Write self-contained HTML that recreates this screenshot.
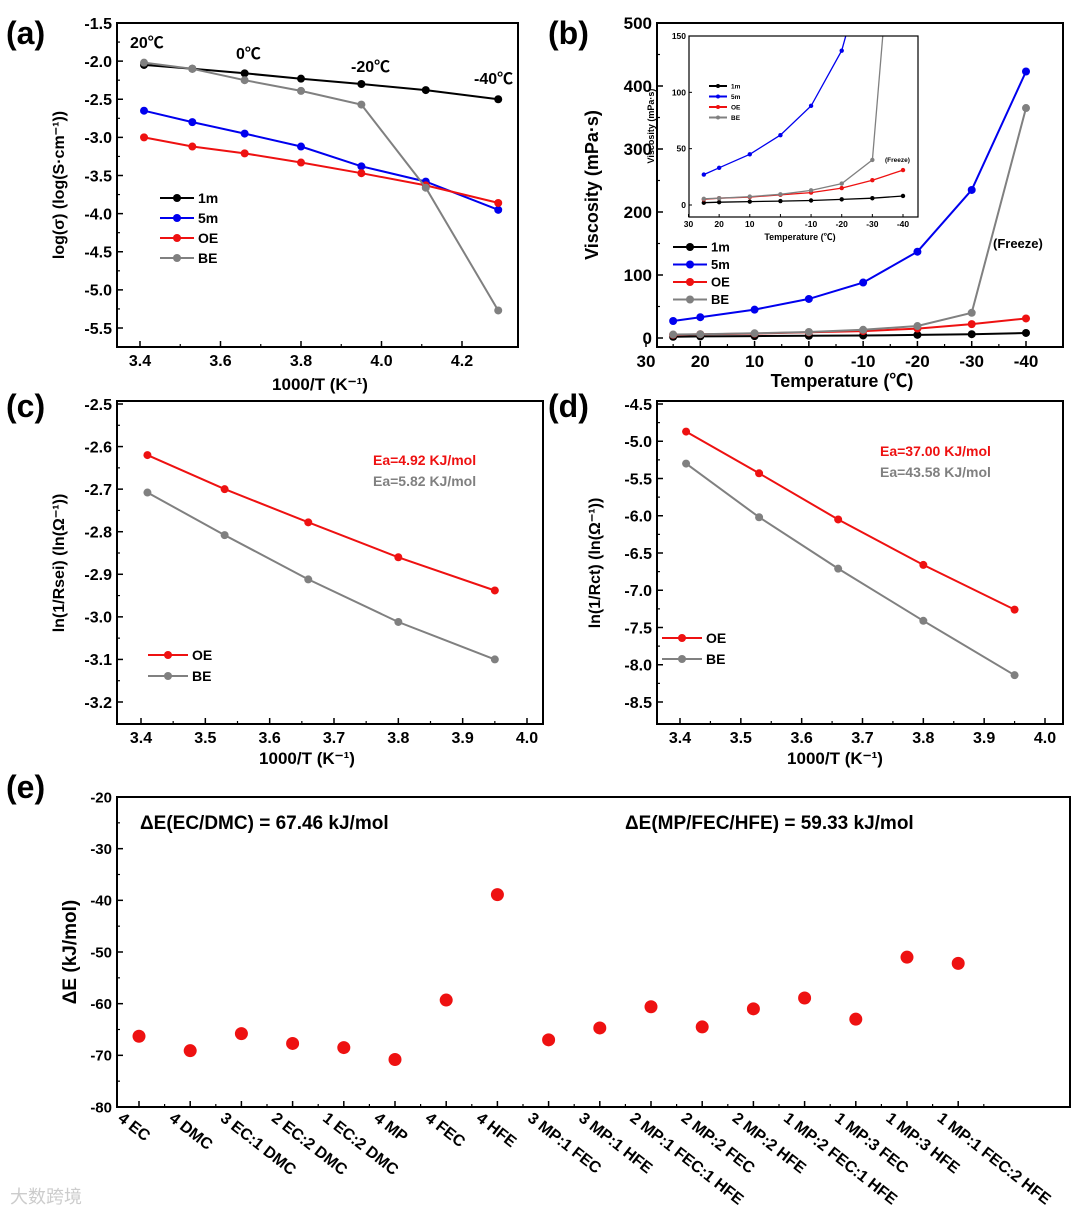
<!DOCTYPE html>
<html><head><meta charset="utf-8"><style>
body{margin:0;background:#fff}
svg{display:block;font-family:"Liberation Sans","Noto Sans CJK SC",sans-serif;font-weight:bold}
</style></head><body>
<svg id="fig" width="1080" height="1216" viewBox="0 0 1080 1216" xmlns="http://www.w3.org/2000/svg"></svg>
<script>
// ---- data (a)
const aX=[3.41,3.53,3.66,3.80,3.95,4.11,4.29];
const a1m=[-2.05,-2.10,-2.16,-2.23,-2.30,-2.38,-2.50];
const a5m=[-2.65,-2.80,-2.95,-3.12,-3.38,-3.58,-3.95];
const aOE=[-3.00,-3.12,-3.21,-3.33,-3.47,-3.63,-3.86];
const aBE=[-2.02,-2.10,-2.25,-2.39,-2.57,-3.66,-5.27];
const aXTicks=[3.4,3.6,3.8,4.0,4.2];
const aYTicks=[-1.5,-2.0,-2.5,-3.0,-3.5,-4.0,-4.5,-5.0,-5.5];
// ---- data (b)
const bX=[25,20,10,0,-10,-20,-30,-40];
const b1m=[2,2.5,3,3.5,4,5,6,8];
const b5m=[27,33,45,62,88,137,235,423];
const bOE=[5,6,7,9,11,15,22,31];
const bBE=[5.5,6,7.5,9.5,13,19,40,365];
const bXTicks=[30,20,10,0,-10,-20,-30,-40];
const bYTicks=[0,100,200,300,400,500];
const insYTicks=[0,50,100,150];
// ---- data (c)
const cX=[3.41,3.53,3.66,3.80,3.95];
const cOE=[-2.62,-2.70,-2.778,-2.86,-2.938];
const cBE=[-2.708,-2.808,-2.912,-3.012,-3.10];
const cXTicks=[3.4,3.5,3.6,3.7,3.8,3.9,4.0];
const cYTicks=[-2.5,-2.6,-2.7,-2.8,-2.9,-3.0,-3.1,-3.2];
// ---- data (d)
const dOE=[-4.87,-5.43,-6.05,-6.66,-7.26];
const dBE=[-5.30,-6.02,-6.71,-7.41,-8.14];
const dYTicks=[-4.5,-5.0,-5.5,-6.0,-6.5,-7.0,-7.5,-8.0,-8.5];
// ---- data (e)
const eCats=["4 EC","4 DMC","3 EC:1 DMC","2 EC:2 DMC","1 EC:2 DMC","4 MP","4 FEC","4 HFE","3 MP:1 FEC","3 MP:1 HFE","2 MP:1 FEC:1 HFE","2 MP:2 FEC","2 MP:2 HFE","1 MP:2 FEC:1 HFE","1 MP:3 FEC","1 MP:3 HFE","1 MP:1 FEC:2 HFE"];
const eVals=[-66.3,-69.1,-65.8,-67.7,-68.5,-70.8,-59.3,-38.9,-67.0,-64.7,-60.6,-64.5,-61.0,-58.9,-63.0,-51.0,-52.2];
const eYTicks=[-20,-30,-40,-50,-60,-70,-80];

const NS="http://www.w3.org/2000/svg";
const svg=document.getElementById('fig');
function mk(tag,attrs,parent,txt){const e=document.createElementNS(NS,tag);for(const k in attrs)e.setAttribute(k,attrs[k]);if(txt!==undefined)e.textContent=txt;(parent||svg).appendChild(e);return e;}
function scale(d0,d1,p0,p1){return v=>p0+(v-d0)*(p1-p0)/(d1-d0);}
function grp(name){const g=mk('g',{},svg);return g;}
function frame(g,x0,y0,x1,y1){const r=mk('rect',{x:x0,y:y0,width:x1-x0,height:y1-y0,fill:'none',stroke:'#000','stroke-width':2},g);}
function xTicks(g,ticks,sx,y1,fs,fmt,minor){
  ticks.forEach((t,i)=>{const x=sx(t);mk('line',{x1:x,x2:x,y1:y1,y2:y1-6,stroke:'#000','stroke-width':1.5},g);
    const tx=mk('text',{x:x,y:y1+fs+3,'font-size':fs,'text-anchor':'middle'},g,fmt(t));
    if(minor&&i<ticks.length-1){const xm=(x+sx(ticks[i+1]))/2;mk('line',{x1:xm,x2:xm,y1:y1,y2:y1-3,stroke:'#000','stroke-width':1.2},g);}});
}
function yTicks(g,ticks,sy,x0,fs,fmt,minor){
  ticks.forEach((t,i)=>{const y=sy(t);mk('line',{x1:x0,x2:x0+6,y1:y,y2:y,stroke:'#000','stroke-width':1.5},g);
    const tx=mk('text',{x:x0-5,y:y+fs*0.36,'font-size':fs,'text-anchor':'end'},g,fmt(t));
    if(minor&&i<ticks.length-1){const ym=(y+sy(ticks[i+1]))/2;mk('line',{x1:x0,x2:x0+3,y1:ym,y2:ym,stroke:'#000','stroke-width':1.2},g);}});
}
function series(g,xs,ys,sx,sy,color,name,r,w){
  const pts=xs.map((x,i)=>sx(x).toFixed(1)+','+sy(ys[i]).toFixed(1)).join(' ');
  const l=mk('polyline',{points:pts,fill:'none',stroke:color,'stroke-width':w||2},g);
  xs.forEach((x,i)=>{const c=mk('circle',{cx:sx(x),cy:sy(ys[i]),r:r||4,fill:color},g);});
}
function legend(g,x,y,dy,items,fs,len,r){
  items.forEach((it,i)=>{const yy=y+i*dy;mk('line',{x1:x,x2:x+len,y1:yy,y2:yy,stroke:it[1],'stroke-width':2},g);mk('circle',{cx:x+len/2,cy:yy,r:r,fill:it[1]},g);
    const t=mk('text',{x:x+len+4,y:yy+fs*0.36,'font-size':fs},g,it[0]);});
}
function txt(g,x,y,s,fs,name,extra){const t=mk('text',Object.assign({x:x,y:y,'font-size':fs},extra||{}),g,s);return t;}
function ytitle(g,x,y,s,fs){txt(g,x,y,s,fs,'y-axis-title',{transform:`rotate(-90 ${x} ${y})`,'text-anchor':'middle'});}
const f1=v=>v.toFixed(1), f0=v=>String(v);

// ===== Panel a
{const g=grp('panel-a');const X0=117,Y0=23,X1=518,Y1=347;
 const sx=scale(3.4,4.2,140,462), sy=scale(-1.5,-5.5,23,328);
 frame(g,X0,Y0,X1,Y1);xTicks(g,aXTicks,sx,Y1,16,f1,true);yTicks(g,aYTicks,sy,X0,16,f1,true);
 series(g,aX,a1m,sx,sy,'#000','1m');series(g,aX,a5m,sx,sy,'#0000ee','5m');series(g,aX,aOE,sx,sy,'#ee1111','OE');series(g,aX,aBE,sx,sy,'#808080','BE');
 legend(g,160,198,20,[['1m','#000'],['5m','#0000ee'],['OE','#ee1111'],['BE','#808080']],14,34,4);
 txt(g,130,48,'20℃',16,'temp-label');txt(g,236,59,'0℃',16,'temp-label');txt(g,351,72,'-20℃',16,'temp-label');txt(g,474,84,'-40℃',16,'temp-label');
 txt(g,320,390,'1000/T (K⁻¹)',17,'x-axis-title',{'text-anchor':'middle'});
 ytitle(g,64,185,'log(σ) (log(S·cm⁻¹))',16);
 txt(g,6,44,'(a)',32,'panel-label');}

// ===== Panel b
{const g=grp('panel-b');const X0=657,Y0=23,X1=1063,Y1=347;
 const sx=scale(30,-40,646,1026), sy=scale(0,500,338,23);
 frame(g,X0,Y0,X1,Y1);xTicks(g,bXTicks,sx,Y1,17,f0,true);yTicks(g,bYTicks,sy,X0,17,f0,true);
 series(g,bX,b1m,sx,sy,'#000','1m');series(g,bX,b5m,sx,sy,'#0000ee','5m');series(g,bX,bOE,sx,sy,'#ee1111','OE');series(g,bX,bBE,sx,sy,'#808080','BE');
 legend(g,673,247,17.5,[['1m','#000'],['5m','#0000ee'],['OE','#ee1111'],['BE','#808080']],13,34,4);
 txt(g,993,248,'(Freeze)',13,'freeze-label');
 txt(g,842,387,'Temperature (℃)',18,'x-axis-title',{'text-anchor':'middle'});
 ytitle(g,598,185,'Viscosity (mPa·s)',18);
 txt(g,548,44,'(b)',32,'panel-label');
 // inset
 const ig=grp('inset-viscosity');const IX0=689,IY0=36,IX1=918,IY1=217;
 const ix=scale(30,-40,688.5,903), iy=scale(0,150,205,36);
 mk('rect',{x:IX0,y:IY0,width:IX1-IX0,height:IY1-IY0,fill:'#fff'},ig);
 const cp=mk('clipPath',{id:'insclip'},ig);mk('rect',{x:IX0,y:IY0,width:IX1-IX0,height:IY1-IY0},cp);
 const sg=mk('g',{'clip-path':'url(#insclip)'},ig);
 series(sg,bX,b1m,ix,iy,'#000','inset-1m',2.2,1.3);series(sg,bX,b5m,ix,iy,'#0000ee','inset-5m',2.2,1.3);series(sg,bX,bOE,ix,iy,'#ee1111','inset-OE',2.2,1.3);series(sg,bX,bBE,ix,iy,'#808080','inset-BE',2.2,1.3);
 mk('rect',{x:IX0,y:IY0,width:IX1-IX0,height:IY1-IY0,fill:'none',stroke:'#000','stroke-width':1.2},ig);
 bXTicks.forEach(t=>{const x=ix(t);mk('line',{x1:x,x2:x,y1:IY1,y2:IY1-3,stroke:'#000'},ig);txt(ig,x,IY1+10,String(t),8.5,'inset-x-tick',{'text-anchor':'middle'});});
 insYTicks.forEach(t=>{const y=iy(t);mk('line',{x1:IX0,x2:IX0+3,y1:y,y2:y,stroke:'#000'},ig);txt(ig,IX0-3,y+3,String(t),8.5,'inset-y-tick',{'text-anchor':'end'});});
 legend(ig,709,86,10.5,[['1m','#000'],['5m','#0000ee'],['OE','#ee1111'],['BE','#808080']],6.5,18,2);
 txt(ig,885,162,'(Freeze)',6.5,'inset-freeze-label');
 txt(ig,800,240,'Temperature (℃)',9,'inset-x-title',{'text-anchor':'middle'});
 ytitle(ig,654,126,'Viscosity (mPa·s)',9);}

// ===== Panel c
{const g=grp('panel-c');const X0=117,Y0=401,X1=543,Y1=724;
 const sx=scale(3.4,4.0,141,527), sy=scale(-2.5,-3.2,404,702);
 frame(g,X0,Y0,X1,Y1);xTicks(g,cXTicks,sx,Y1,16,f1,true);yTicks(g,cYTicks,sy,X0,16,f1,true);
 series(g,cX,cOE,sx,sy,'#ee1111','OE');series(g,cX,cBE,sx,sy,'#808080','BE');
 legend(g,148,655,21,[['OE','#ee1111'],['BE','#808080']],14,40,4);
 txt(g,373,465,'Ea=4.92 KJ/mol',14,'ea-oe',{fill:'#ee1111'});txt(g,373,486,'Ea=5.82 KJ/mol',14,'ea-be',{fill:'#808080'});
 txt(g,307,764,'1000/T (K⁻¹)',17,'x-axis-title',{'text-anchor':'middle'});
 ytitle(g,64,563,'ln(1/Rsei) (ln(Ω⁻¹))',16);
 txt(g,6,417,'(c)',32,'panel-label');}

// ===== Panel d
{const g=grp('panel-d');const X0=657,Y0=401,X1=1063,Y1=724;
 const sx=scale(3.4,4.0,680,1045), sy=scale(-4.5,-8.5,404,702);
 frame(g,X0,Y0,X1,Y1);xTicks(g,cXTicks,sx,Y1,16,f1,true);yTicks(g,dYTicks,sy,X0,16,f1,true);
 series(g,cX,dOE,sx,sy,'#ee1111','OE');series(g,cX,dBE,sx,sy,'#808080','BE');
 legend(g,662,638,21,[['OE','#ee1111'],['BE','#808080']],14,40,4);
 txt(g,880,456,'Ea=37.00 KJ/mol',14,'ea-oe',{fill:'#ee1111'});txt(g,880,477,'Ea=43.58 KJ/mol',14,'ea-be',{fill:'#808080'});
 txt(g,835,764,'1000/T (K⁻¹)',17,'x-axis-title',{'text-anchor':'middle'});
 ytitle(g,600,563,'ln(1/Rct) (ln(Ω⁻¹))',16);
 txt(g,548,417,'(d)',32,'panel-label');}

// ===== Panel e
{const g=grp('panel-e');const X0=117,Y0=797,X1=1070,Y1=1107;
 const sx=i=>139+i*51.2, sy=scale(-20,-80,797,1107);
 frame(g,X0,Y0,X1,Y1);yTicks(g,eYTicks,sy,X0,15,f0,true);
 eCats.forEach((c,i)=>{const x=sx(i);mk('line',{x1:x,x2:x,y1:Y1,y2:Y1-6,stroke:'#000','stroke-width':1.5},g);
   const xm=x+25.6;mk('line',{x1:xm,x2:xm,y1:Y1,y2:Y1-3,stroke:'#000','stroke-width':1.2},g);
   txt(g,x-22,1120,c,16,'x-category-label',{transform:`rotate(38 ${x-22} 1120)`});});
 eVals.forEach((v,i)=>{const c=mk('circle',{cx:sx(i),cy:sy(v),r:6.5,fill:'#ee1111'},g);});
 txt(g,140,829,'ΔE(EC/DMC) = 67.46 kJ/mol',19,'delta-e-ec-dmc');
 txt(g,625,829,'ΔE(MP/FEC/HFE) = 59.33 kJ/mol',19,'delta-e-mp-fec-hfe');
 ytitle(g,76,952,'ΔE (kJ/mol)',19);
 txt(g,6,798,'(e)',32,'panel-label');
 txt(g,10,1203,'大数跨境',18,'watermark',{fill:'#ccc','font-weight':'normal'});}
</script>
</body></html>
